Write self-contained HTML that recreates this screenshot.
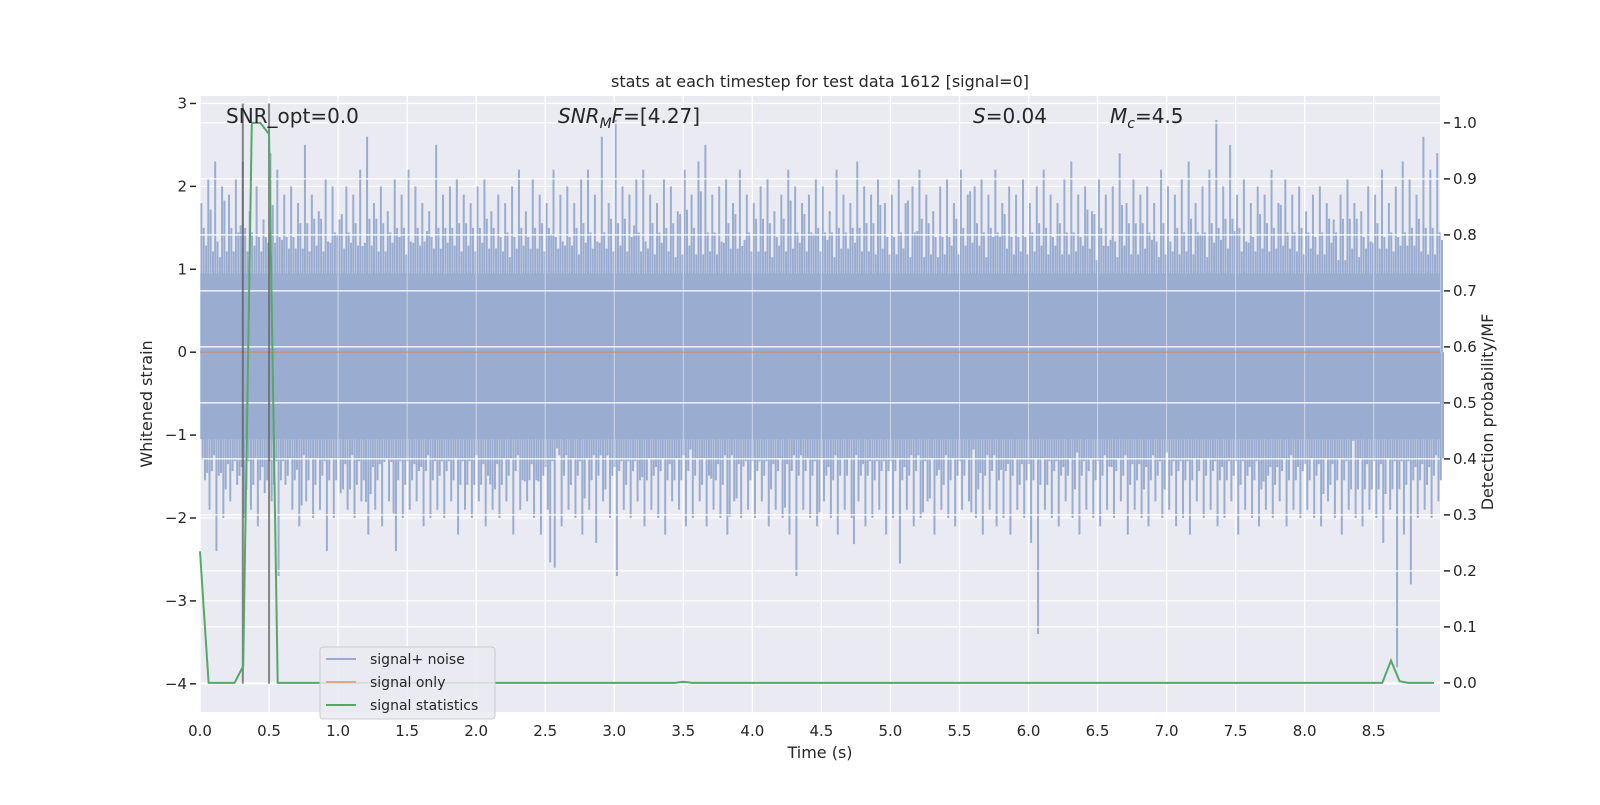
<!DOCTYPE html>
<html><head><meta charset="utf-8"><style>
body{margin:0;background:#fff;}
svg text{font-family:"DejaVu Sans","Liberation Sans",sans-serif;fill:#262626;}
</style></head><body>
<svg id="chart" width="1600" height="800" xmlns="http://www.w3.org/2000/svg">
<rect x="0" y="0" width="1600" height="800" fill="#fff"/>
<rect x="200" y="96" width="1240" height="616" fill="#eaeaf2"/>
<g id="gridUnder"></g>
<g id="noise"></g>
<g id="gridOver"></g>
<g id="marks"></g>
<g id="axes"></g>
<text x="820" y="87" font-size="16" text-anchor="middle">stats at each timestep for test data 1612 [signal=0]</text>
<text x="226" y="123" font-size="20">SNR_opt=0.0</text>
<text x="558" y="123" font-size="20"><tspan font-style="italic">SNR</tspan><tspan font-style="italic" font-size="14" dy="5">M</tspan><tspan font-style="italic" dy="-5">F</tspan>=[4.27]</text>
<text x="973" y="123" font-size="20"><tspan font-style="italic">S</tspan>=0.04</text>
<text x="1110" y="123" font-size="20"><tspan font-style="italic">M</tspan><tspan font-style="italic" font-size="14" dy="5">c</tspan><tspan dy="-5">=4.5</tspan></text>
<text x="820" y="758" font-size="16" text-anchor="middle">Time (s)</text>
<text x="0" y="0" font-size="16" text-anchor="middle" transform="translate(152,404) rotate(-90)">Whitened strain</text>
<text x="0" y="0" font-size="16" text-anchor="middle" transform="translate(1493,412) rotate(-90)">Detection probability/MF</text>
<g>
<rect x="320" y="647" width="175" height="72" rx="3" fill="#eaeaf2" fill-opacity="0.85" stroke="#cccccc"/>
<line x1="326" y1="659" x2="356" y2="659" stroke="#9aadd0" stroke-width="2"/>
<text x="370" y="664" font-size="14">signal+ noise</text>
<line x1="326" y1="682" x2="356" y2="682" stroke="#dda98a" stroke-width="2"/>
<text x="370" y="687" font-size="14">signal only</text>
<line x1="326" y1="705" x2="356" y2="705" stroke="#55a868" stroke-width="2"/>
<text x="370" y="710" font-size="14">signal statistics</text>
</g>
</svg>
<script>
const noiseHi=[1.8,2.1,2.3,2.0,1.9,2.1,2.3,1.7,2.0,1.6,2.4,2.2,1.9,2.0,1.8,2.5,1.9,1.7,2.1,2.0,
1.6,2.0,1.9,2.2,2.6,1.8,2.0,1.7,2.1,1.9,2.2,2.0,1.8,1.7,2.5,1.9,2.0,2.1,1.9,1.8,
2.0,2.1,1.7,1.9,1.8,2.0,2.2,1.7,2.1,1.9,1.8,2.2,1.9,2.0,1.8,2.1,2.2,1.9,2.6,1.8,
2.8,2.0,1.9,2.1,2.2,1.9,1.8,2.1,2.0,1.7,2.2,1.9,2.3,2.5,1.9,2.0,2.1,1.8,2.2,1.9,
1.8,2.0,2.1,1.7,1.9,2.2,2.0,1.8,1.9,2.1,2.0,1.7,2.2,1.9,1.8,2.3,2.0,1.9,2.1,1.8,
1.9,2.1,1.8,2.0,2.2,1.9,1.7,2.0,2.1,1.8,2.2,1.9,2.0,2.1,1.9,2.2,1.8,2.0,1.9,2.1,
1.8,2.0,2.2,1.9,1.8,2.1,2.3,1.9,2.0,1.7,2.1,1.9,2.0,2.4,1.8,2.1,1.9,2.0,1.8,2.2,
2.0,1.9,2.1,2.3,1.8,2.0,2.2,2.8,2.0,2.5,1.9,2.1,1.8,2.0,1.9,2.2,1.8,2.1,1.9,2.0,
1.7,1.9,2.0,1.8,1.6,1.9,2.1,1.8,1.7,2.0,1.9,2.2,1.8,2.0,2.3,2.1,1.9,2.6,2.2,2.4];
const noiseLo=[-1.3,-1.9,-2.4,-2.0,-1.8,-1.6,-2.0,-1.9,-2.1,-1.7,-1.8,-2.7,-1.6,-1.9,-2.1,-1.8,-2.0,-1.9,-2.4,-2.0,
-1.7,-1.9,-2.0,-1.8,-2.2,-1.9,-2.1,-1.8,-2.4,-2.0,-1.9,-1.8,-2.1,-2.0,-1.9,-2.0,-1.8,-2.2,-1.9,-2.0,
-1.8,-2.1,-1.9,-2.0,-1.8,-2.2,-1.9,-1.8,-2.0,-2.2,-1.9,-2.6,-2.1,-1.9,-2.0,-2.2,-1.9,-2.3,-1.8,-2.0,
-2.7,-1.9,-2.0,-1.8,-2.1,-1.9,-2.0,-2.2,-1.8,-1.9,-2.1,-2.0,-1.8,-2.1,-1.9,-2.0,-2.2,-1.8,-2.0,-1.9,
-2.0,-1.8,-2.1,-1.9,-2.0,-2.2,-2.7,-1.9,-2.0,-2.1,-1.8,-2.0,-2.2,-1.9,-2.0,-1.8,-2.1,-2.0,-1.9,-2.2,
-2.0,-2.55,-1.9,-2.1,-2.0,-1.8,-2.2,-1.9,-2.0,-2.1,-1.9,-1.8,-2.0,-2.2,-1.9,-2.1,-2.0,-2.2,-1.9,-2.0,
-2.3,-3.4,-1.9,-2.0,-2.1,-1.8,-2.0,-2.2,-1.9,-2.0,-2.1,-1.9,-2.0,-1.8,-2.2,-1.9,-2.0,-2.1,-1.8,-2.0,
-1.9,-2.1,-2.0,-2.2,-1.8,-2.0,-1.9,-2.1,-2.0,-1.8,-2.2,-1.9,-2.0,-2.1,-1.9,-2.0,-1.8,-2.1,-1.9,-2.0,
-1.9,-2.0,-2.1,-1.8,-2.0,-2.2,-1.9,-2.0,-2.1,-1.9,-2.0,-2.3,-1.9,-3.8,-2.2,-2.8,-2.0,-1.9,-2.0,-1.8];
const noiseBin=0.05;
const statStep=0.0625;
const statVals=[0.235,0,0,0,0,0.03,1.0,1.0,0.98,0,0,0,0,0,0,0,
0,0,0,0,0,0,0,0,0,0,0,0,0,0,0,0,
0,0,0,0,0,0,0,0,0,0,0,0,0,0,0,0,
0,0,0,0,0,0,0,0,0.002,0,0,0,0,0,0,0,
0,0,0,0,0,0,0,0,0,0,0,0,0,0,0,0,
0,0,0,0,0,0,0,0,0,0,0,0,0,0,0,0,
0,0,0,0,0,0,0,0,0,0,0,0,0,0,0,0,
0,0,0,0,0,0,0,0,0,0,0,0,0,0,0,0,
0,0,0,0,0,0,0,0,0,0,0.04,0.003,0,0,0,0];
const markerTimes=[0.31,0.5];
const xTicks=[0,0.5,1,1.5,2,2.5,3,3.5,4,4.5,5,5.5,6,6.5,7,7.5,8,8.5];
const yTicks=[-4,-3,-2,-1,0,1,2,3];
const y2Ticks=[0,0.1,0.2,0.3,0.4,0.5,0.6,0.7,0.8,0.9,1.0];

const X0=200,X1=1440,Y0=96,Y1=712;
const xMin=0,xMax=8.98,yMin=-4.34,yMax=3.09,y2Min=-0.052,y2Max=1.048;
const sx=t=>X0+(t-xMin)/(xMax-xMin)*(X1-X0);
const sy=v=>Y1-(v-yMin)/(yMax-yMin)*(Y1-Y0);
const sy2=v=>Y1-(v-y2Min)/(y2Max-y2Min)*(Y1-Y0);
const NS="http://www.w3.org/2000/svg";
function mk(tag,attrs,parent){const e=document.createElementNS(NS,tag);for(const k in attrs)e.setAttribute(k,attrs[k]);parent.appendChild(e);return e;}
const gu=document.getElementById('gridUnder'),go=document.getElementById('gridOver'),gn=document.getElementById('noise'),gm=document.getElementById('marks'),ga=document.getElementById('axes');
yTicks.forEach(v=>{const l=mk('line',{x1:X0,x2:X1,y1:sy(v),y2:sy(v),stroke:'#fff','stroke-width':1.3},gu);

});
xTicks.forEach(v=>{const l=mk('line',{x1:sx(v),x2:sx(v),y1:Y0,y2:Y1,stroke:'#fff','stroke-width':1.3},gu);

});
const core=mk('rect',{x:X0,y:sy(0.95),width:X1-X0,height:sy(-1.05)-sy(0.95),fill:'#9aadd0'},gn);


const n=noiseHi.length;
const C='#9aadd0';
noiseHi.forEach((h,i)=>{const t=i*noiseBin+0.01;if(t>xMax)return;
const lo=noiseLo[i];
const h2=noiseHi[(i*7+3)%n],h3=noiseHi[(i*11+5)%n];
const l2=noiseLo[(i*7+3)%n],l3=noiseLo[(i*13+2)%n];
const a=mk('line',{x1:sx(t),x2:sx(t),y1:sy(0),y2:sy(h),stroke:C,'stroke-width':2},gn);


const m1=mk('line',{x1:sx(t+0.017),x2:sx(t+0.017),y1:sy(0),y2:sy(0.95+(h2-1.0)*0.55),stroke:C,'stroke-width':2},gn);


const m2=mk('line',{x1:sx(t+0.034),x2:sx(t+0.034),y1:sy(0),y2:sy(0.9+(h3-1.0)*0.35),stroke:C,'stroke-width':2},gn);


const b=mk('line',{x1:sx(t+0.009),x2:sx(t+0.009),y1:sy(0),y2:sy(lo),stroke:C,'stroke-width':2},gn);


const c1=mk('line',{x1:sx(t+0.026),x2:sx(t+0.026),y1:sy(0),y2:sy(-1.05+(l2+1.1)*0.55),stroke:C,'stroke-width':2},gn);


const c2=mk('line',{x1:sx(t+0.042),x2:sx(t+0.042),y1:sy(0),y2:sy(-1.0+(l3+1.1)*0.35),stroke:C,'stroke-width':2},gn);

});
y2Ticks.forEach(v=>{const l=mk('line',{x1:X0,x2:X1,y1:sy2(v),y2:sy2(v),stroke:'#fff','stroke-width':1.3},go);

});
xTicks.forEach(v=>{const l=mk('line',{x1:sx(v),x2:sx(v),y1:Y0,y2:Y1,stroke:'#fff','stroke-width':1,'stroke-opacity':0.5},go);

});
const so=mk('line',{x1:X0,x2:X1,y1:sy(0),y2:sy(0),stroke:'#dd8452','stroke-opacity':0.6,'stroke-width':1.5},gm);


markerTimes.forEach(t=>{const l=mk('line',{x1:sx(t),x2:sx(t),y1:sy(3.0),y2:sy(-4),stroke:'#555','stroke-opacity':0.7,'stroke-width':2},gm);

});
const pts=statVals.map((v,i)=>sx(i*statStep).toFixed(1)+','+sy2(v).toFixed(1)).join(' ');
const pl=mk('polyline',{points:pts,fill:'none',stroke:'#55a868','stroke-width':2},gm);


xTicks.forEach(v=>{const t=mk('text',{x:sx(v),y:Y1+24,'font-size':15,'text-anchor':'middle'},ga);t.textContent=v.toFixed(1);

});
yTicks.forEach(v=>{mk('line',{x1:X0-10,x2:X0-4,y1:sy(v),y2:sy(v),stroke:'#262626','stroke-width':1.5},ga);
const t=mk('text',{x:X0-13,y:sy(v)+5,'font-size':15,'text-anchor':'end'},ga);t.textContent=(v<0?'\u2212'+(-v):''+v);

});
y2Ticks.forEach(v=>{mk('line',{x1:X1+4,x2:X1+10,y1:sy2(v),y2:sy2(v),stroke:'#262626','stroke-width':1.5},ga);
const t=mk('text',{x:X1+13,y:sy2(v)+5,'font-size':15},ga);t.textContent=v.toFixed(1);

});
</script>
</body></html>
